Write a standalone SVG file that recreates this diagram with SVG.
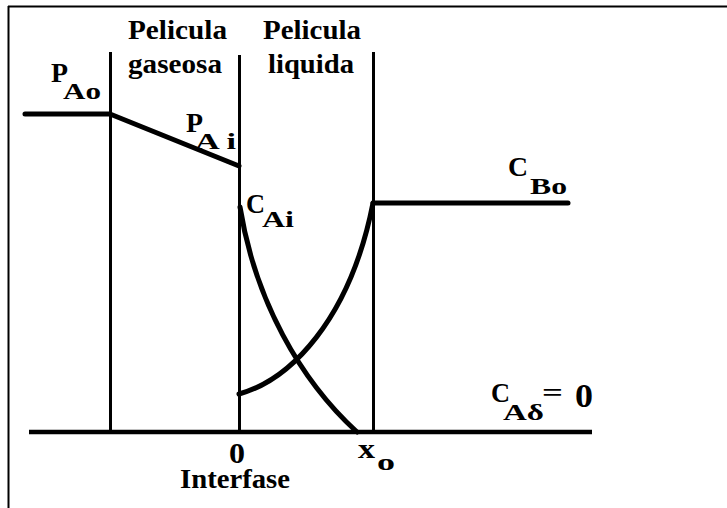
<svg xmlns="http://www.w3.org/2000/svg" width="727" height="508" viewBox="0 0 727 508">
<style>
  .t { font-family: "Liberation Serif", "Times New Roman", serif; font-weight: bold; fill: #000; }
  .lab { font-size: 27px; }
  .sym { font-size: 27px; }
  .sub { font-size: 24px; }
  .num { font-size: 30px; }
  .thin { stroke: #000; stroke-width: 3; fill: none; }
  .thick { stroke: #000; stroke-width: 5; fill: none; stroke-linecap: round; }
</style>
<rect width="727" height="508" fill="#fff"/>
<g id="frame">
  <path d="M8,6.5 H727 M8.5,6 V508" stroke="#000" stroke-width="2" fill="none"/>
</g>
<g id="film-boundaries">
  <line class="thin" x1="110.5" y1="52" x2="110.5" y2="432"/>
  <line class="thin" x1="239.5" y1="55" x2="239.5" y2="432" stroke-width="4"/>
  <line class="thin" x1="373.5" y1="52" x2="373.5" y2="432"/>
</g>
<g id="axis">
  <line x1="29" y1="432" x2="592" y2="432" stroke="#000" stroke-width="4.5"/>
</g>
<g id="profiles">
  <polyline class="thick" points="25,114 110,114 239,166" stroke-linejoin="round"/>
  <line class="thick" x1="373" y1="203" x2="568" y2="203"/>
  <path class="thick" d="M240,207 C255,300 300,380 357,432"/>
  <path class="thick" d="M239,394 C290,380 350,320 373,203"/>
</g>
<g id="labels">
  <text class="t lab" x="128" y="39" textLength="99" lengthAdjust="spacingAndGlyphs">Pelicula</text>
  <text class="t lab" x="128" y="73" textLength="94" lengthAdjust="spacingAndGlyphs">gaseosa</text>
  <text class="t lab" x="263" y="39" textLength="98" lengthAdjust="spacingAndGlyphs">Pelicula</text>
  <text class="t lab" x="268" y="73" textLength="86" lengthAdjust="spacingAndGlyphs">liquida</text>
  <g id="PAo">
    <text class="t sym" x="51" y="82" textLength="17" lengthAdjust="spacingAndGlyphs">P</text>
    <text class="t sub" x="63" y="99" textLength="38" lengthAdjust="spacingAndGlyphs">Ao</text>
  </g>
  <g id="PAi">
    <text class="t sym" x="186" y="132" textLength="17" lengthAdjust="spacingAndGlyphs">P</text>
    <text class="t sub" x="195" y="149" textLength="41" lengthAdjust="spacingAndGlyphs">A i</text>
  </g>
  <g id="CAi">
    <text class="t sym" x="246" y="213" textLength="19" lengthAdjust="spacingAndGlyphs">C</text>
    <text class="t sub" x="262" y="227" textLength="32" lengthAdjust="spacingAndGlyphs">Ai</text>
  </g>
  <g id="CBo">
    <text class="t sym" x="508" y="176" textLength="20" lengthAdjust="spacingAndGlyphs">C</text>
    <text class="t sub" x="530" y="194" textLength="37" lengthAdjust="spacingAndGlyphs">Bo</text>
  </g>
  <g id="CAd">
    <text class="t sym" x="491" y="402" textLength="19" lengthAdjust="spacingAndGlyphs">C</text>
    <text class="t sub" x="503" y="420" textLength="41" lengthAdjust="spacingAndGlyphs">Aδ</text>
    <text class="t" x="542" y="401" font-size="26" textLength="21" lengthAdjust="spacingAndGlyphs">=</text>
    <text class="t" x="575" y="407" font-size="34" textLength="18" lengthAdjust="spacingAndGlyphs">0</text>
  </g>
  <g id="x0">
    <text class="t sym" x="358" y="458" textLength="17" lengthAdjust="spacingAndGlyphs">x</text>
    <text class="t sub" x="377" y="470" textLength="18" lengthAdjust="spacingAndGlyphs">o</text>
  </g>
  <text class="t num" x="229" y="463" textLength="16" lengthAdjust="spacingAndGlyphs">0</text>
  <text class="t lab" x="180" y="488" textLength="110" lengthAdjust="spacingAndGlyphs">Interfase</text>
</g>
</svg>
